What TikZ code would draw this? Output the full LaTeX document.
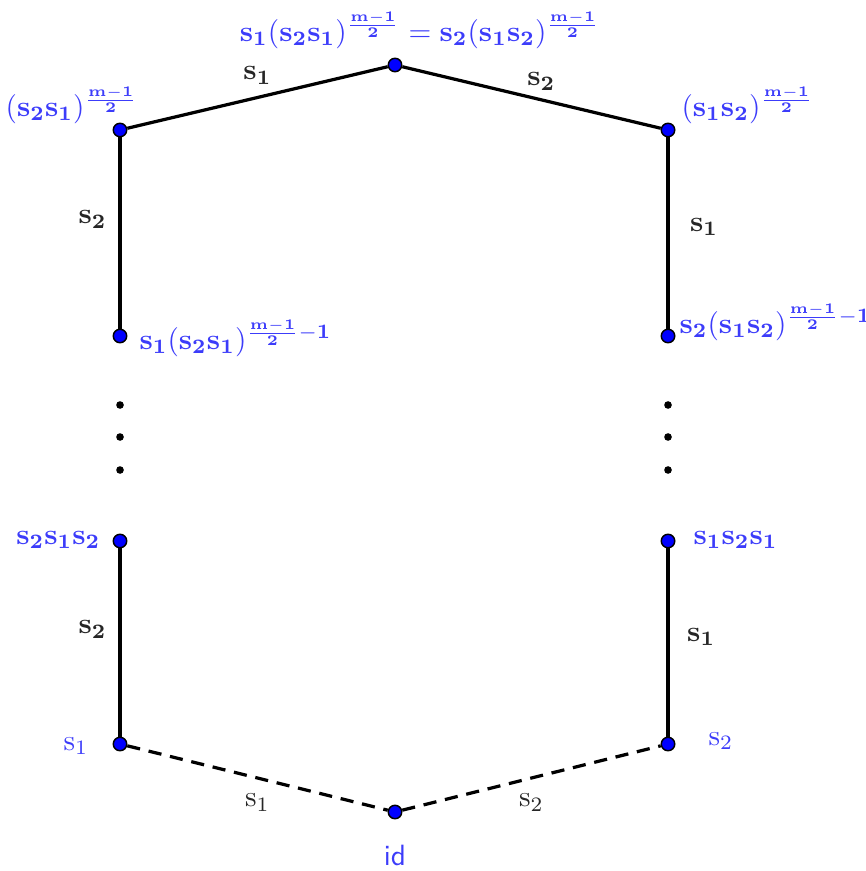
\documentclass[tikz,border=0pt]{standalone}
\usepackage{amsmath, amsfonts, amssymb}
\usetikzlibrary{positioning}
\definecolor{elemblue}{RGB}{60,60,250}

\begin{document}
\begin{tikzpicture}[x=0.012cm,y=-0.012cm,
    vert/.style={circle, fill=blue, draw=black, line width=0.5pt, inner sep=0pt, minimum size=4.6pt},
    elem/.style={text=elemblue, inner sep=1pt},
    edge/.style={line width=1.1pt, black},
    gen/.style={inner sep=2pt, text=black!85}]
    \useasboundingbox (0,0) rectangle (866,871);

    % vertices
    \node (top) at (395, 65) [vert] {};
    \node (lt) at (120, 130) [vert] {};
    \node (rt) at (668, 130) [vert] {};
    \node (lm) at (120, 336) [vert] {};
    \node (rm) at (668, 336) [vert] {};
    \node (lb) at (120, 541) [vert] {};
    \node (rb) at (668, 541) [vert] {};
    \node (ls) at (120, 744) [vert] {};
    \node (rs) at (668, 744) [vert] {};
    \node (id) at (395, 812) [vert] {};

    % edges
    \draw[edge] (lt) -- node[gen, above=2pt] {$\mathbf{s_1}$} (top);
    \draw[edge] (top) -- node[gen, above right=0pt and -4pt] {$\mathbf{s_2}$} (rt);
    \draw[edge] (lt) -- node[gen, left=2pt, pos=0.43] {$\mathbf{s_2}$} (lm);
    \draw[edge] (rt) -- node[gen, right=5pt, pos=0.47] {$\mathbf{s_1}$} (rm);
    \draw[edge] (lb) -- node[gen, left=2pt, pos=0.43] {$\mathbf{s_2}$} (ls);
    \draw[edge] (rb) -- node[gen, right=4pt, pos=0.47] {$\mathbf{s_1}$} (rs);
    \draw[edge, dash pattern=on 4.5pt off 3pt] (ls) -- node[gen, below=3pt] {$\mathrm{s_1}$} (id);
    \draw[edge, dash pattern=on 4.5pt off 3pt] (id) -- node[gen, below=3pt] {$\mathrm{s_2}$} (rs);

    % element labels
    \node (Ltop) at (420, 30) [elem] {$\mathbf{s_1(s_2s_1)^{\frac{m-1}{2}} = s_2(s_1s_2)^{\frac{m-1}{2}}}$};
    \node (Llt) at (72, 105) [elem] {$\mathbf{(s_2s_1)^{\frac{m-1}{2}}}$};
    \node (Lrt) at (678, 105) [elem, anchor=west] {$\mathbf{(s_1s_2)^{\frac{m-1}{2}}}$};
    \node (Llm) at (136, 338) [elem, anchor=west] {$\mathbf{s_1(s_2s_1)^{\frac{m-1}{2}-1}}$};
    \node (Lrm) at (676, 322) [elem, anchor=west] {$\mathbf{s_2(s_1s_2)^{\frac{m-1}{2}-1}}$};
    \node (Llb) at (104, 540) [elem, anchor=east] {$\mathbf{s_2s_1s_2}$};
    \node (Lrb) at (690, 540) [elem, anchor=west] {$\mathbf{s_1s_2s_1}$};
    \node (Lls) at (76, 746) [elem] {$\mathrm{s_1}$};
    \node (Lrs) at (721, 741) [elem] {$\mathrm{s_2}$};
    \node (Lid) at (395, 855) [elem] {\sffamily id};

    % dots
    \foreach \y in {405, 437, 470} {
        \fill (120, \y) circle (1.3pt);
        \fill (668, \y) circle (1.3pt);
    }
\end{tikzpicture}
\end{document}
